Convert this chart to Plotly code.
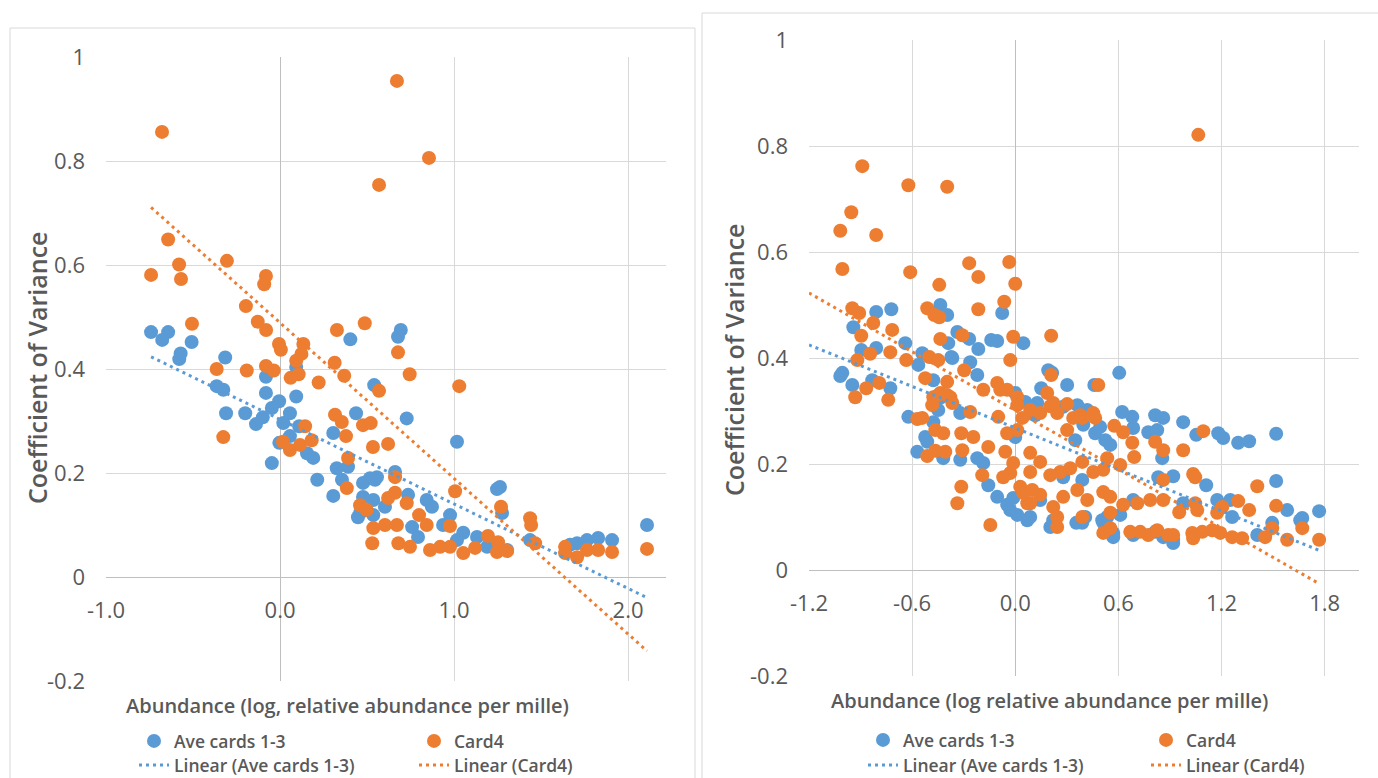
import plotly.graph_objects as go

BLUE = '#5B9BD5'
ORANGE = '#ED7D31'
GRID = '#d9d9d9'
AXIS = '#bfbfbf'
TXT = '#595959'
FONT = 'Open Sans'

# ---------------- data ----------------
left_ave = [
    (-0.741, 0.471), (-0.677, 0.456), (-0.643, 0.471), (-0.508, 0.452), (-0.571, 0.430),
    (-0.579, 0.419), (-0.315, 0.422), (-0.364, 0.367), (-0.326, 0.360), (-0.081, 0.385),
    (-0.081, 0.354), (-0.005, 0.338), (0.093, 0.347), (0.093, 0.404), (0.404, 0.457),
    (0.678, 0.462), (0.694, 0.475), (0.541, 0.369), (-0.310, 0.315), (-0.200, 0.315),
    (-0.138, 0.294), (-0.099, 0.307), (-0.047, 0.325), (0.057, 0.315), (0.019, 0.296),
    (0.110, 0.290), (-0.047, 0.219), (-0.004, 0.258), (0.057, 0.271), (0.155, 0.238),
    (0.191, 0.229), (0.306, 0.277), (0.437, 0.315), (0.214, 0.187), (0.326, 0.209),
    (0.391, 0.212), (0.356, 0.187), (0.306, 0.156), (0.477, 0.181), (0.546, 0.187),
    (0.460, 0.123), (0.536, 0.148), (0.728, 0.305), (1.017, 0.260), (0.517, 0.190),
    (0.557, 0.192), (0.661, 0.202), (0.477, 0.154), (0.448, 0.115), (0.536, 0.119),
    (0.603, 0.135), (0.736, 0.158), (0.843, 0.148), (0.873, 0.135), (0.977, 0.119),
    (0.937, 0.100), (0.759, 0.096), (0.793, 0.077), (1.053, 0.085), (1.132, 0.077),
    (1.190, 0.058), (1.264, 0.173), (1.247, 0.169), (1.276, 0.123), (1.437, 0.071),
    (1.707, 0.065), (1.764, 0.071), (1.828, 0.075), (1.908, 0.071), (2.109, 0.100),
    (1.305, 0.052), (1.017, 0.071), (1.667, 0.062),
]

left_card4 = [
    (0.672, 0.954), (-0.678, 0.856), (0.856, 0.806), (0.569, 0.754), (-0.643, 0.649),
    (-0.305, 0.608), (-0.741, 0.581), (-0.580, 0.601), (-0.569, 0.573), (-0.081, 0.579),
    (-0.091, 0.563), (-0.196, 0.521), (-0.506, 0.487), (-0.128, 0.491), (-0.080, 0.475),
    (0.487, 0.488), (0.327, 0.475), (-0.006, 0.448), (0.005, 0.437), (0.134, 0.448),
    (0.123, 0.429), (0.093, 0.416), (0.678, 0.432), (0.314, 0.412), (-0.364, 0.400),
    (-0.191, 0.397), (-0.081, 0.406), (-0.036, 0.397), (0.061, 0.383), (0.107, 0.390),
    (0.745, 0.390), (0.369, 0.387), (0.222, 0.374), (1.030, 0.367), (0.569, 0.358),
    (-0.326, 0.269), (0.316, 0.312), (0.355, 0.298), (0.477, 0.292), (0.521, 0.296),
    (0.379, 0.271), (0.144, 0.290), (0.182, 0.263), (0.017, 0.260), (0.057, 0.244),
    (0.115, 0.254), (0.391, 0.229), (0.534, 0.250), (0.384, 0.171), (0.460, 0.138),
    (0.498, 0.129), (0.621, 0.256), (0.661, 0.192), (0.621, 0.152), (0.661, 0.162),
    (0.728, 0.142), (0.799, 0.119), (0.843, 0.100), (0.536, 0.094), (0.603, 0.100),
    (0.672, 0.100), (0.530, 0.065), (0.680, 0.065), (0.747, 0.058), (0.862, 0.052),
    (0.920, 0.058), (0.977, 0.058), (0.977, 0.098), (1.006, 0.165), (1.053, 0.046),
    (1.121, 0.056), (1.195, 0.079), (1.253, 0.067), (1.247, 0.048), (1.305, 0.050),
    (1.270, 0.135), (1.437, 0.113), (1.443, 0.100), (1.466, 0.065), (1.638, 0.058),
    (1.707, 0.038), (1.764, 0.052), (1.828, 0.052), (1.908, 0.048), (2.109, 0.054),
    (1.638, 0.046),
]

right_ave = [
    (-0.942, 0.458), (-0.809, 0.487), (-0.721, 0.492), (-0.436, 0.500), (-0.396, 0.481),
    (-0.076, 0.485), (-0.896, 0.415), (-0.809, 0.419), (-0.640, 0.428), (-0.337, 0.449),
    (-0.268, 0.436), (-0.215, 0.417), (-0.140, 0.434), (-0.105, 0.432), (0.047, 0.428),
    (-0.390, 0.428), (-0.372, 0.402), (-0.541, 0.409), (-0.564, 0.387), (-0.262, 0.392),
    (-1.006, 0.372), (-0.948, 0.349), (-0.727, 0.343), (-0.221, 0.368), (0.192, 0.377),
    (0.302, 0.349), (0.460, 0.349), (0.605, 0.372), (0.151, 0.343), (-1.018, 0.366),
    (-0.832, 0.358), (-0.366, 0.400), (-0.477, 0.358), (0.000, 0.334), (-0.436, 0.325),
    (-0.622, 0.289), (-0.524, 0.251), (-0.512, 0.242), (-0.570, 0.223), (-0.419, 0.211),
    (-0.477, 0.279), (-0.448, 0.302), (-0.320, 0.208), (-0.320, 0.296), (-0.221, 0.211),
    (-0.186, 0.202), (-0.157, 0.160), (-0.105, 0.138), (-0.047, 0.123), (-0.029, 0.113),
    (0.012, 0.104), (0.070, 0.094), (-0.012, 0.136), (0.000, 0.251), (0.215, 0.372),
    (0.361, 0.311), (0.128, 0.315), (0.622, 0.298), (0.681, 0.289), (0.814, 0.292),
    (0.861, 0.287), (0.977, 0.279), (0.774, 0.260), (0.826, 0.264), (1.053, 0.255),
    (1.181, 0.258), (1.210, 0.249), (1.297, 0.240), (1.361, 0.243), (1.518, 0.257),
    (0.855, 0.211), (0.832, 0.175), (0.919, 0.177), (1.111, 0.160), (1.251, 0.132),
    (1.518, 0.168), (1.582, 0.113), (1.670, 0.098), (1.768, 0.111), (1.495, 0.089),
    (1.408, 0.066), (0.977, 0.126), (0.390, 0.170), (0.279, 0.175), (0.686, 0.132),
    (0.535, 0.100), (0.611, 0.104), (0.919, 0.057), (0.861, 0.062), (0.570, 0.070),
    (0.512, 0.089), (0.390, 0.089), (0.221, 0.094), (0.087, 0.100), (0.145, 0.132),
    (0.494, 0.270), (0.524, 0.245), (0.419, 0.302), (0.279, 0.308), (0.686, 0.268),
    (1.175, 0.132), (1.262, 0.100), (0.204, 0.081), (0.355, 0.089), (0.407, 0.100),
    (0.506, 0.094), (0.570, 0.062), (0.686, 0.066), (0.814, 0.072), (1.658, 0.094),
    (0.396, 0.274), (0.465, 0.258), (0.553, 0.236), (0.349, 0.245), (0.058, 0.317),
    (0.116, 0.292), (0.919, 0.051),
]

right_card4 = [
    (1.065, 0.821), (-0.890, 0.762), (-0.622, 0.726), (-0.396, 0.723), (-0.954, 0.675),
    (-1.018, 0.640), (-0.809, 0.632), (-1.006, 0.568), (-0.611, 0.562), (-0.268, 0.579),
    (-0.215, 0.553), (-0.035, 0.581), (0.000, 0.540), (-0.442, 0.538), (-0.064, 0.506),
    (-0.215, 0.492), (0.209, 0.442), (-0.012, 0.440), (-0.029, 0.396), (-0.948, 0.494),
    (-0.908, 0.485), (-0.826, 0.466), (-0.896, 0.442), (-0.716, 0.453), (-0.727, 0.411),
    (-0.844, 0.408), (-0.919, 0.396), (-0.512, 0.494), (-0.471, 0.481), (-0.442, 0.477),
    (-0.436, 0.436), (-0.308, 0.443), (-0.500, 0.402), (-0.448, 0.396), (-0.634, 0.396),
    (-0.297, 0.377), (-0.524, 0.362), (-0.396, 0.355), (0.209, 0.368), (0.483, 0.349),
    (-0.867, 0.343), (-0.791, 0.353), (-0.931, 0.326), (-0.739, 0.321), (-0.186, 0.340),
    (-0.105, 0.353), (-0.047, 0.340), (0.012, 0.326), (-0.477, 0.326), (-0.378, 0.326),
    (-0.436, 0.334), (-0.570, 0.285), (-0.541, 0.287), (-0.512, 0.215), (-0.465, 0.225),
    (-0.407, 0.223), (-0.465, 0.264), (-0.419, 0.258), (-0.483, 0.311), (-0.448, 0.330),
    (-0.396, 0.330), (-0.366, 0.315), (-0.314, 0.258), (-0.244, 0.251), (-0.308, 0.226),
    (-0.157, 0.232), (-0.262, 0.298), (-0.192, 0.179), (-0.314, 0.157), (-0.337, 0.126),
    (-0.145, 0.085), (-0.058, 0.223), (-0.012, 0.202), (-0.070, 0.175), (-0.029, 0.183),
    (-0.047, 0.258), (0.012, 0.264), (-0.099, 0.289), (0.012, 0.311), (0.041, 0.287),
    (-0.087, 0.340), (0.029, 0.157), (0.047, 0.145), (0.070, 0.126), (0.186, 0.334),
    (0.302, 0.313), (0.204, 0.309), (0.454, 0.296), (0.378, 0.292), (0.244, 0.296),
    (1.094, 0.262), (0.814, 0.242), (0.861, 0.226), (0.977, 0.226), (0.681, 0.240),
    (0.692, 0.213), (0.576, 0.272), (0.628, 0.260), (0.465, 0.287), (0.390, 0.287),
    (0.337, 0.287), (0.302, 0.264), (0.221, 0.315), (0.087, 0.302), (0.145, 0.296),
    (0.535, 0.211), (0.611, 0.198), (0.390, 0.204), (0.320, 0.192), (0.262, 0.185),
    (0.204, 0.179), (0.087, 0.221), (0.145, 0.204), (0.087, 0.185), (0.454, 0.185),
    (0.512, 0.189), (0.861, 0.170), (1.035, 0.181), (1.047, 0.175), (1.408, 0.158),
    (1.518, 0.121), (1.297, 0.130), (1.361, 0.113), (1.204, 0.119), (1.175, 0.108),
    (1.047, 0.126), (1.059, 0.113), (0.954, 0.109), (0.861, 0.132), (0.785, 0.132),
    (0.710, 0.126), (0.628, 0.123), (0.553, 0.138), (0.512, 0.147), (0.553, 0.108),
    (0.419, 0.132), (0.361, 0.151), (0.279, 0.138), (0.221, 0.119), (0.244, 0.100),
    (0.390, 0.100), (0.099, 0.151), (0.145, 0.142), (0.087, 0.126), (0.244, 0.081),
    (0.512, 0.070), (0.553, 0.079), (0.669, 0.072), (0.727, 0.072), (0.774, 0.066),
    (0.826, 0.075), (0.890, 0.066), (0.919, 0.066), (1.030, 0.070), (1.088, 0.072),
    (1.146, 0.075), (1.193, 0.070), (1.262, 0.062), (1.320, 0.060), (1.454, 0.062),
    (1.495, 0.079), (1.582, 0.057), (1.670, 0.079), (1.768, 0.057), (1.035, 0.060),
]

# Linear trendlines as shown in the picture: (slope, intercept)
left_trends = [(-0.1625, 0.303), (-0.2993, 0.489)]
right_trends = [(-0.1306, 0.268), (-0.1848, 0.301)]
right_trend_start = -1.2   # Excel trendlines start at the axis minimum in the right chart

series_names = ['Ave cards 1-3', 'Card4']
trend_names = ['Linear (Ave cards 1-3)', 'Linear (Card4)']

left_xtick_vals = [-1, 0, 1, 2]
left_xtick_text = ['-1.0', '0.0', '1.0', '2.0']
right_xtick_vals = [-1.2, -0.6, 0.0, 0.6, 1.2, 1.8]
right_xtick_text = ['-1.2', '-0.6', '0.0', '0.6', '1.2', '1.8']
ytick_vals = [-0.2, 0, 0.2, 0.4, 0.6, 0.8, 1.0]
ytick_text = ['-0.2', '0', '0.2', '0.4', '0.6', '0.8', '1']

left_xrange = [-1.0, 2.218]
right_xrange = [-1.2, 2.0]
yrange = [-0.2, 1.0]

x_title_left = 'Abundance (log, relative abundance per mille)'
x_title_right = 'Abundance (log relative abundance per mille)'
y_title = 'Coefficient of Variance'

# ---------------- helpers ----------------
W, H = 1378, 778


def px(p):
    return p / W


def py(p):
    return 1 - p / H


def split(pairs):
    return [p[0] for p in pairs], [p[1] for p in pairs]


fig = go.Figure()

# legend item positions (left px of item, row centres)
panels = [
    dict(pts=[left_ave, left_card4], trends=left_trends, xa='x', ya='y', x0=None,
         legs=['legend', 'legend2', 'legend3', 'legend4'], legx=[134, 414], rows=[741, 765]),
    dict(pts=[right_ave, right_card4], trends=right_trends, xa='x2', ya='y2', x0=right_trend_start,
         legs=['legend5', 'legend6', 'legend7', 'legend8'], legx=[863, 1146], rows=[740, 765]),
]
colors = [BLUE, ORANGE]

legfont = dict(family=FONT, size=17.5, color=TXT, weight=600)
leg_common = dict(orientation='h', xanchor='left', yanchor='middle', font=legfont,
                  bgcolor='rgba(0,0,0,0)', borderwidth=0, itemclick=False, itemdoubleclick=False)
legend_layout = {}

for pn in panels:
    for i, pts in enumerate(pn['pts']):
        xs, ys = split(pts)
        fig.add_trace(go.Scatter(
            x=xs, y=ys, mode='markers', name=series_names[i],
            marker=dict(color=colors[i], size=14, line=dict(width=0)),
            xaxis=pn['xa'], yaxis=pn['ya'], legend=pn['legs'][i]))
        legend_layout[pn['legs'][i]] = dict(leg_common, x=px(pn['legx'][i]), y=py(pn['rows'][0]))
    for i, pts in enumerate(pn['pts']):
        xs, _ = split(pts)
        m, b = pn['trends'][i]
        lo = min(xs) if pn['x0'] is None else pn['x0']
        tx = [lo, max(xs)]
        fig.add_trace(go.Scatter(
            x=tx, y=[m * v + b for v in tx], mode='lines', name=trend_names[i],
            line=dict(color=colors[i], width=3, dash='3px,4px'),
            xaxis=pn['xa'], yaxis=pn['ya'], legend=pn['legs'][2 + i], hoverinfo='skip'))
        legend_layout[pn['legs'][2 + i]] = dict(leg_common, x=px(pn['legx'][i]), y=py(pn['rows'][1]))

tickfont = dict(family=FONT, size=22, color=TXT)
common_x = dict(showgrid=True, gridcolor=GRID, gridwidth=1, zeroline=True, zerolinecolor=AXIS,
                zerolinewidth=1, showline=False, ticks='', tickfont=tickfont, tickmode='array',
                fixedrange=True, anchor='free', ticklabelstandoff=18)
common_y = dict(showgrid=True, gridcolor=GRID, gridwidth=1, zeroline=True, zerolinecolor=AXIS,
                zerolinewidth=1, showline=False, ticks='', tickfont=tickfont, tickmode='array',
                tickvals=ytick_vals, ticktext=ytick_text, range=yrange, fixedrange=True,
                ticklabelstandoff=20)

fig.update_layout(
    width=W, height=H, margin=dict(l=0, r=0, t=0, b=0, autoexpand=False),
    paper_bgcolor='white', plot_bgcolor='white',
    xaxis=dict(common_x, domain=[px(106), px(666)], range=left_xrange,
               tickvals=left_xtick_vals, ticktext=left_xtick_text, position=py(577)),
    yaxis=dict(common_y, domain=[py(681), py(57)], anchor='x'),
    xaxis2=dict(common_x, domain=[px(809), px(1359)], range=right_xrange,
                tickvals=right_xtick_vals, ticktext=right_xtick_text, position=py(570)),
    yaxis2=dict(common_y, domain=[py(676), py(40)], anchor='x2'),
    showlegend=True,
    **legend_layout,
)

# panel borders (chart-area outlines)
fig.add_shape(type='rect', xref='paper', yref='paper', x0=px(10), x1=px(695), y0=-0.1, y1=py(28),
              line=dict(color=GRID, width=1), layer='below')
fig.add_shape(type='rect', xref='paper', yref='paper', x0=px(702), x1=1.1, y0=-0.1, y1=py(13),
              line=dict(color=GRID, width=1), layer='below')

title_font_x = dict(family=FONT, size=20, color=TXT, weight=600)
title_font_y = dict(family=FONT, size=25, color=TXT, weight=600)
for (tx, ty, txt, ang, f) in [
    (347, 705, x_title_left, 0, title_font_x),
    (1049, 700, x_title_right, 0, title_font_x),
    (37, 368, y_title, -90, title_font_y),
    (734, 360, y_title, -90, title_font_y),
]:
    fig.add_annotation(x=px(tx), y=py(ty), xref='paper', yref='paper', text=txt, showarrow=False,
                       textangle=ang, font=f, xanchor='center', yanchor='middle')

fig.write_html('out.html', config={'displayModeBar': False},
               post_script="document.body.style.margin='0';document.body.style.overflow='hidden';")
